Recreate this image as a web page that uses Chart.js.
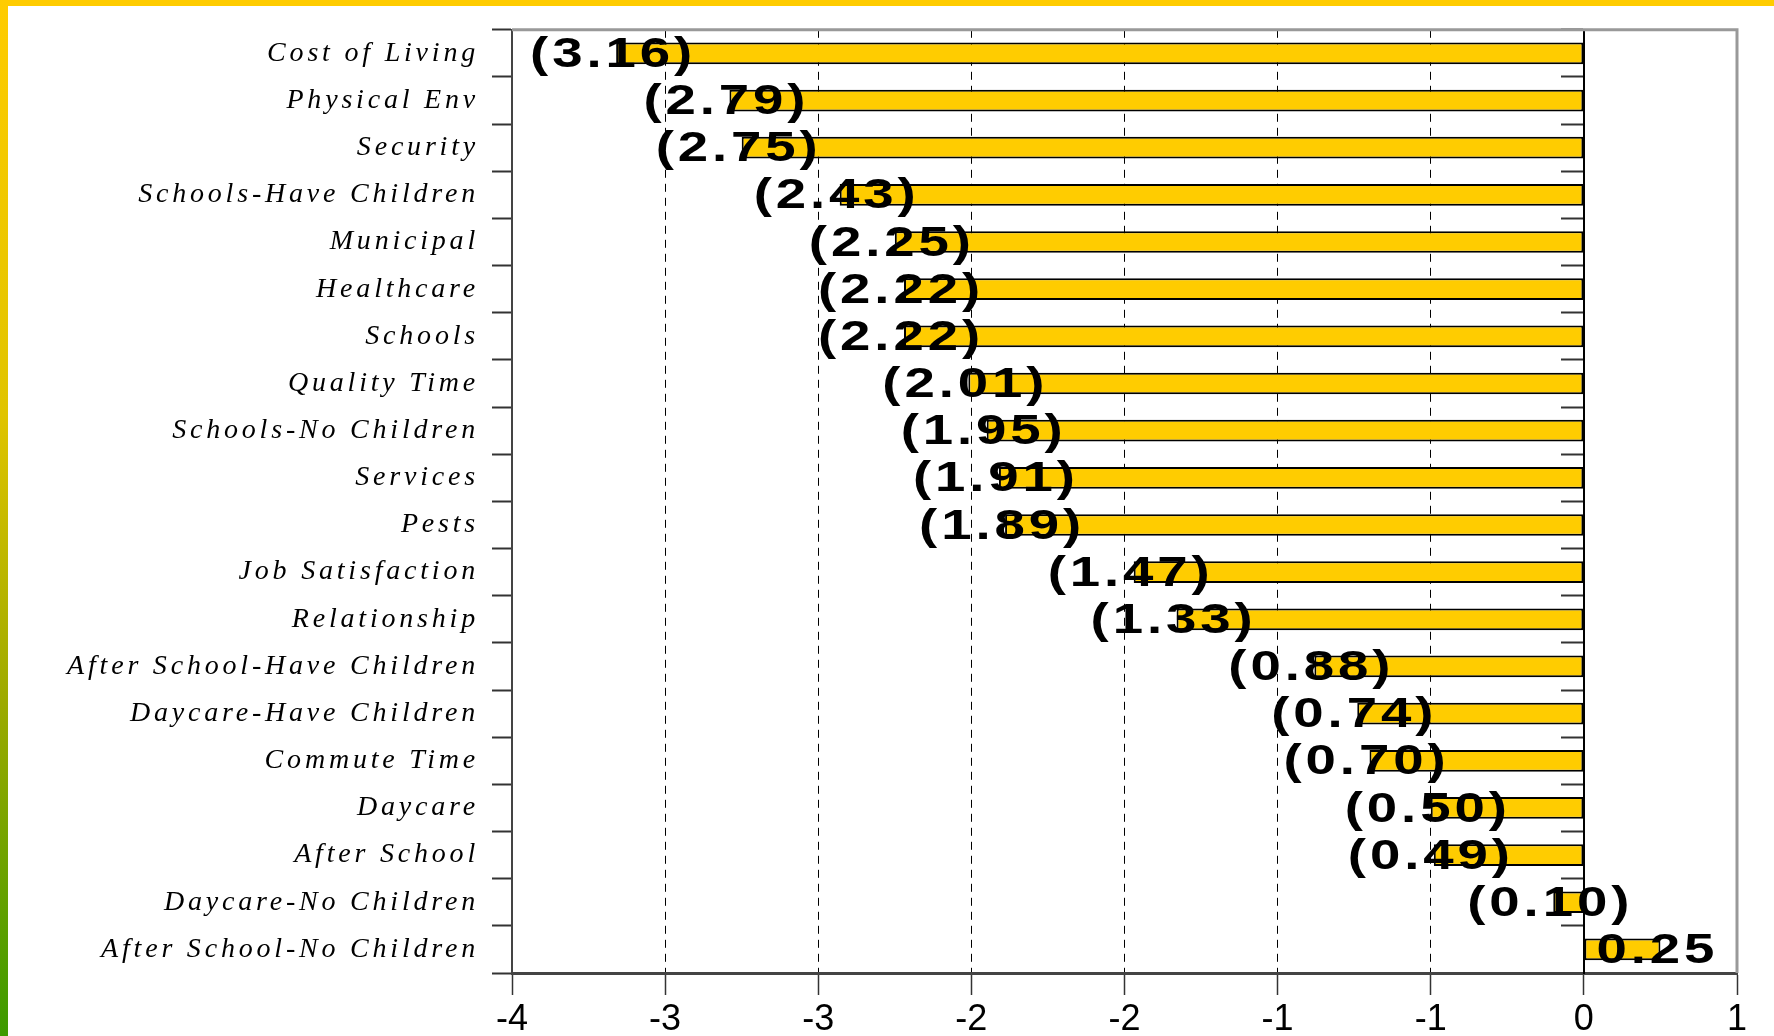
<!DOCTYPE html>
<html>
<head>
<meta charset="utf-8">
<script src="https://cdn.jsdelivr.net/npm/chart.js@4.4.0/dist/chart.umd.min.js"></script>
<style>
html, body { margin: 0; padding: 0; background: #fff; overflow: hidden; }
#wrap { position: relative; width: 1774px; height: 1036px; }
#topBar { position: absolute; left: 0; top: 0; width: 1774px; height: 6px; background: #FFCC00; }
#leftBar { position: absolute; left: 0; top: 0; width: 8px; height: 1036px;
  background: linear-gradient(to bottom, #FFCC00 0%, #E0C400 40%, #9CAA00 68%, #3C9A00 100%); }
canvas { position: absolute; left: 0; top: 0; }
</style>
</head>
<body>
<div id="wrap">
  <canvas id="chart" width="1774" height="1036"></canvas>
  <div id="topBar"></div>
  <div id="leftBar"></div>
</div>
<script>
// Categorías (de arriba hacia abajo)
const categories = [
    'Cost of Living', 'Physical Env', 'Security', 'Schools-Have Children',
    'Municipal', 'Healthcare', 'Schools', 'Quality Time', 'Schools-No Children',
    'Services', 'Pests', 'Job Satisfaction', 'Relationship',
    'After School-Have Children', 'Daycare-Have Children', 'Commute Time',
    'Daycare', 'After School', 'Daycare-No Children', 'After School-No Children'
];

// Valores de cada barra
const values = [
    -3.16, -2.79, -2.75, -2.43, -2.25, -2.22, -2.22, -2.01, -1.95, -1.91,
    -1.89, -1.47, -1.33, -0.88, -0.74, -0.70, -0.50, -0.49, -0.10, 0.25
];

// Etiquetas del eje X tal como aparecen (redondeadas)
const xTickLabels = ['-4', '-3', '-3', '-2', '-2', '-1', '-1', '0', '1'];
const xMin = -3.5;
const xMax = 0.5;
const xStep = 0.5;

// Etiquetas de valor sobre cada barra (texto ensanchado)
const barLabels = {
    id: 'barLabels',
    afterDatasetsDraw(chart) {
        const ctx = chart.ctx;
        const meta = chart.getDatasetMeta(0);
        meta.data.forEach((bar, i) => {
            const v = values[i];
            const txt = v < 0 ? '(' + Math.abs(v).toFixed(2) + ')' : v.toFixed(2);
            ctx.save();
            ctx.font = 'bold 42px "Liberation Sans"';
            ctx.letterSpacing = '3px';
            ctx.fillStyle = '#000';
            ctx.textAlign = 'center';
            ctx.textBaseline = 'middle';
            ctx.translate(bar.x - 3, bar.y + 2);
            ctx.scale(1.3, 1);
            ctx.fillText(txt, 0, 0);
            ctx.restore();
        });
    }
};

// Marco gris arriba y a la derecha
const frame = {
    id: 'frame',
    beforeDatasetsDraw(chart) {
        const { ctx, chartArea: a } = chart;
        ctx.save();
        ctx.strokeStyle = '#999';
        ctx.lineWidth = 3;
        ctx.beginPath();
        ctx.moveTo(a.left, a.top);
        ctx.lineTo(a.right, a.top);
        ctx.lineTo(a.right, a.bottom);
        ctx.stroke();
        ctx.restore();
    }
};

// Espaciado de letras para las categorías
const spacedLabels = {
    id: 'spacedLabels',
    beforeDraw(chart) {
        const ys = chart.scales.y;
        if (ys && !ys._spaced) {
            const orig = ys.drawLabels;
            ys.drawLabels = function (area) {
                const c = this.ctx;
                c.save();
                c.letterSpacing = '3.8px';
                orig.call(this, area);
                c.restore();
            };
            ys._spaced = true;
        }
    }
};

const ctx = document.getElementById('chart').getContext('2d');
window.myChart = new Chart(ctx, {
    type: 'bar',
    data: {
        labels: categories,
        datasets: [{
            data: values,
            backgroundColor: '#FFCC00',
            borderColor: '#000',
            borderWidth: 2,
            borderSkipped: false,
            barPercentage: 0.46,
            categoryPercentage: 1
        }]
    },
    options: {
        indexAxis: 'y',
        responsive: false,
        animation: false,
        devicePixelRatio: 1,
        layout: { padding: { top: 28, right: 37, left: 0, bottom: 0 } },
        plugins: {
            legend: { display: false },
            tooltip: { enabled: false }
        },
        scales: {
            x: {
                min: xMin,
                max: xMax,
                afterFit: (s) => { s.height = 63; },
                ticks: {
                    stepSize: xStep,
                    autoSkip: false,
                    maxRotation: 0,
                    padding: 3,
                    color: '#000',
                    font: { family: 'Liberation Sans', size: 36 },
                    callback: (value, index) => xTickLabels[index]
                },
                grid: {
                    color: (c) => {
                        if (!c.tick) return '#000';
                        const v = c.tick.value;
                        return (v === xMin || v === xMax || v === 0) ? 'rgba(0,0,0,0)' : '#000';
                    },
                    lineWidth: 1,
                    tickLength: 22,
                    tickColor: '#333',
                    tickWidth: 1.5
                },
                border: { color: '#444', width: 3, dash: [8, 6] }
            },
            y: {
                afterFit: (s) => { s.width = 512; },
                ticks: {
                    padding: 13,
                    color: '#000',
                    font: { family: 'Liberation Serif', style: 'italic', size: 28 }
                },
                grid: {
                    drawOnChartArea: false,
                    tickLength: 20,
                    tickColor: '#333',
                    tickWidth: 2
                },
                border: { color: '#444', width: 2 }
            },
            zero: {
                type: 'category',
                axis: 'y',
                position: { x: 0 },
                offset: true,
                ticks: { display: false },
                grid: {
                    offset: true,
                    drawOnChartArea: false,
                    tickLength: 22,
                    tickColor: '#333',
                    tickWidth: 2
                },
                border: { color: '#000', width: 2 }
            }
        }
    },
    plugins: [barLabels, frame, spacedLabels]
});
</script>
</body>
</html>
